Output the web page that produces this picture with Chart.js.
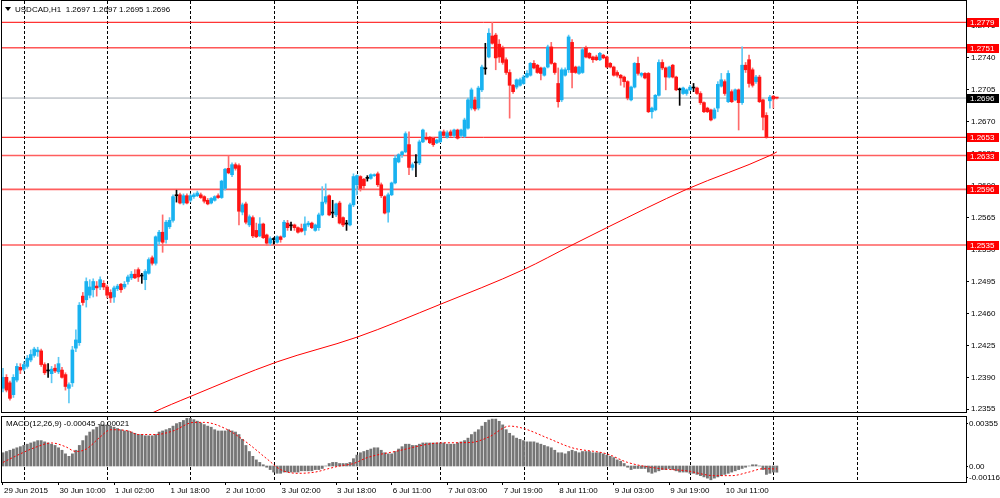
<!DOCTYPE html>
<html>
<head>
<meta charset="utf-8">
<title>USDCAD,H1</title>
<script src="https://cdn.jsdelivr.net/npm/chart.js@4.4.0/dist/chart.umd.min.js"></script>
<style>
  html, body { margin: 0; padding: 0; background: #fff; }
  #wrap { position: relative; width: 1000px; height: 498px; overflow: hidden; }
  canvas { position: absolute; left: 0; }
  #main { top: 0; }
  #macd { top: 414px; }
</style>
</head>
<body>
<div id="wrap">
  <canvas id="main" width="1000" height="414"></canvas>
  <canvas id="macd" width="1000" height="84"></canvas>
</div>
<script>
// H1 candles, bar 0 = first visible bar
const opens = [
  1.2378,1.2390,1.2384,1.2371,1.2387,1.2401,1.2399,1.2402,1.2409,1.2414,
  1.2418,1.2419,1.2404,1.2397,1.2394,1.2400,1.2396,1.2398,1.2393,1.2378,
  1.2384,1.2422,1.2428,1.2479,1.2475,1.2480,1.2486,1.2490,1.2489,1.2493,
  1.2489,1.2483,1.2478,1.2487,1.2492,1.2489,1.2495,1.2499,1.2503,1.2508,
  1.2501,1.2497,1.2504,1.2521,1.2515,1.2539,1.2549,1.2541,1.2555,1.2562,
  1.2589,1.2590,1.2581,1.2589,1.2584,1.2588,1.2589,1.2590,1.2588,1.2584,
  1.2581,1.2584,1.2589,1.2587,1.2597,1.2619,1.2612,1.2623,1.2622,1.2571,
  1.2580,1.2557,1.2565,1.2551,1.2545,1.2558,1.2546,1.2537,1.2541,1.2538,
  1.2544,1.2544,1.2559,1.2556,1.2557,1.2554,1.2553,1.2551,1.2557,1.2559,
  1.2551,1.2554,1.2568,1.2582,1.2589,1.2570,1.2568,1.2581,1.2565,1.2558,
  1.2557,1.2579,1.2601,1.2610,1.2607,1.2608,1.2608,1.2611,1.2613,1.2601,
  1.2588,1.2571,1.2590,1.2603,1.2626,1.2634,1.2637,1.2645,1.2620,1.2625,
  1.2625,1.2648,1.2653,1.2653,1.2652,1.2647,1.2648,1.2659,1.2653,1.2659,
  1.2655,1.2661,1.2655,1.2654,1.2663,1.2685,1.2694,1.2685,1.2705,1.2728,
  1.2741,1.2764,1.2765,1.2755,1.2751,1.2738,1.2724,1.2710,1.2708,1.2710,
  1.2712,1.2719,1.2721,1.2734,1.2732,1.2729,1.2721,1.2730,1.2752,1.2734,
  1.2712,1.2694,1.2721,1.2727,1.2757,1.2730,1.2723,1.2724,1.2751,1.2745,
  1.2741,1.2741,1.2738,1.2743,1.2741,1.2734,1.2730,1.2724,1.2721,1.2719,
  1.2714,1.2694,1.2708,1.2734,1.2721,1.2723,1.2723,1.2681,1.2683,1.2699,
  1.2735,1.2729,1.2719,1.2732,1.2719,1.2705,1.2701,1.2701,1.2705,1.2707,
  1.2707,1.2701,1.2691,1.2685,1.2683,1.2674,1.2685,1.2709,1.2714,1.2692,
  1.2703,1.2694,1.2705,1.2691,1.2732,1.2738,1.2727,1.2714,1.2719,1.2694,
  1.2677,1.2693,1.2698,1.2697
];
const highs = [
  1.2400,1.2393,1.2386,1.2393,1.2405,1.2405,1.2407,1.2414,1.2420,1.2423,
  1.2423,1.2421,1.2406,1.2405,1.2402,1.2404,1.2412,1.2401,1.2395,1.2384,
  1.2424,1.2442,1.2472,1.2483,1.2499,1.2497,1.2498,1.2495,1.2500,1.2496,
  1.2491,1.2486,1.2490,1.2492,1.2493,1.2495,1.2502,1.2506,1.2508,1.2510,
  1.2504,1.2508,1.2521,1.2523,1.2545,1.2551,1.2568,1.2562,1.2565,1.2590,
  1.2595,1.2592,1.2591,1.2591,1.2591,1.2592,1.2594,1.2592,1.2589,1.2586,
  1.2587,1.2589,1.2591,1.2606,1.2619,1.2633,1.2625,1.2625,1.2624,1.2581,
  1.2582,1.2568,1.2567,1.2559,1.2565,1.2559,1.2547,1.2544,1.2543,1.2545,
  1.2545,1.2562,1.2562,1.2560,1.2558,1.2555,1.2558,1.2566,1.2561,1.2560,
  1.2558,1.2570,1.2599,1.2602,1.2590,1.2584,1.2581,1.2583,1.2566,1.2562,
  1.2581,1.2613,1.2612,1.2611,1.2608,1.2611,1.2613,1.2613,1.2615,1.2603,
  1.2589,1.2592,1.2604,1.2633,1.2635,1.2638,1.2659,1.2659,1.2625,1.2634,
  1.2650,1.2662,1.2658,1.2654,1.2653,1.2651,1.2660,1.2661,1.2660,1.2661,
  1.2662,1.2662,1.2662,1.2674,1.2696,1.2707,1.2697,1.2709,1.2732,1.2756,
  1.2772,1.2779,1.2767,1.2760,1.2753,1.2740,1.2727,1.2711,1.2717,1.2718,
  1.2721,1.2726,1.2735,1.2737,1.2733,1.2730,1.2730,1.2754,1.2757,1.2735,
  1.2729,1.2729,1.2729,1.2765,1.2760,1.2731,1.2731,1.2751,1.2753,1.2746,
  1.2742,1.2743,1.2746,1.2744,1.2742,1.2735,1.2731,1.2726,1.2722,1.2720,
  1.2715,1.2709,1.2735,1.2741,1.2724,1.2724,1.2724,1.2686,1.2700,1.2738,
  1.2738,1.2730,1.2731,1.2733,1.2720,1.2707,1.2708,1.2706,1.2710,1.2712,
  1.2708,1.2703,1.2692,1.2686,1.2684,1.2685,1.2714,1.2723,1.2716,1.2726,
  1.2705,1.2706,1.2706,1.2752,1.2735,1.2743,1.2729,1.2721,1.2721,1.2695,
  1.2680,1.2699,1.2699,1.2697
];
const lows = [
  1.2374,1.2374,1.2365,1.2368,1.2385,1.2394,1.2397,1.2400,1.2407,1.2412,
  1.2413,1.2402,1.2393,1.2390,1.2384,1.2395,1.2394,1.2389,1.2376,1.2362,
  1.2380,1.2418,1.2425,1.2469,1.2467,1.2477,1.2478,1.2479,1.2486,1.2486,
  1.2477,1.2472,1.2472,1.2485,1.2483,1.2487,1.2492,1.2497,1.2498,1.2495,
  1.2493,1.2486,1.2503,1.2513,1.2513,1.2535,1.2527,1.2537,1.2553,1.2560,
  1.2582,1.2580,1.2579,1.2580,1.2582,1.2586,1.2588,1.2586,1.2581,1.2579,
  1.2580,1.2583,1.2586,1.2586,1.2595,1.2613,1.2610,1.2617,1.2557,1.2568,
  1.2558,1.2555,1.2543,1.2543,1.2544,1.2542,1.2535,1.2535,1.2536,1.2537,
  1.2538,1.2543,1.2551,1.2551,1.2551,1.2548,1.2549,1.2546,1.2555,1.2553,
  1.2550,1.2551,1.2567,1.2580,1.2567,1.2565,1.2566,1.2558,1.2555,1.2551,
  1.2556,1.2577,1.2590,1.2594,1.2597,1.2605,1.2607,1.2610,1.2599,1.2587,
  1.2569,1.2560,1.2589,1.2602,1.2625,1.2631,1.2636,1.2612,1.2617,1.2610,
  1.2623,1.2647,1.2650,1.2646,1.2643,1.2646,1.2647,1.2654,1.2652,1.2654,
  1.2653,1.2651,1.2653,1.2653,1.2662,1.2683,1.2682,1.2683,1.2703,1.2722,
  1.2740,1.2755,1.2727,1.2735,1.2733,1.2722,1.2674,1.2701,1.2706,1.2709,
  1.2711,1.2718,1.2720,1.2728,1.2723,1.2716,1.2720,1.2729,1.2733,1.2722,
  1.2686,1.2692,1.2720,1.2724,1.2707,1.2723,1.2722,1.2723,1.2740,1.2739,
  1.2735,1.2737,1.2737,1.2739,1.2729,1.2729,1.2720,1.2719,1.2710,1.2708,
  1.2694,1.2693,1.2707,1.2721,1.2719,1.2717,1.2680,1.2674,1.2682,1.2698,
  1.2727,1.2705,1.2718,1.2718,1.2704,1.2688,1.2700,1.2699,1.2704,1.2703,
  1.2700,1.2689,1.2680,1.2680,1.2671,1.2673,1.2681,1.2708,1.2699,1.2691,
  1.2691,1.2693,1.2661,1.2689,1.2724,1.2708,1.2708,1.2712,1.2691,1.2661,
  1.2652,1.2685,1.2685,1.2695
];
const closes = [
  1.2390,1.2376,1.2367,1.2390,1.2402,1.2398,1.2404,1.2411,1.2415,1.2421,
  1.2420,1.2404,1.2395,1.2397,1.2399,1.2397,1.2405,1.2390,1.2380,1.2382,
  1.2420,1.2431,1.2469,1.2472,1.2495,1.2489,1.2495,1.2488,1.2497,1.2489,
  1.2480,1.2477,1.2488,1.2490,1.2486,1.2492,1.2500,1.2503,1.2499,1.2500,
  1.2501,1.2506,1.2519,1.2515,1.2544,1.2549,1.2538,1.2560,1.2562,1.2588,
  1.2589,1.2581,1.2589,1.2581,1.2589,1.2590,1.2592,1.2587,1.2583,1.2580,
  1.2586,1.2588,1.2587,1.2605,1.2618,1.2614,1.2623,1.2619,1.2572,1.2579,
  1.2560,1.2566,1.2545,1.2544,1.2558,1.2543,1.2537,1.2542,1.2541,1.2544,
  1.2541,1.2560,1.2554,1.2556,1.2554,1.2549,1.2550,1.2558,1.2559,1.2554,
  1.2557,1.2568,1.2582,1.2588,1.2568,1.2570,1.2580,1.2559,1.2557,1.2558,
  1.2579,1.2610,1.2611,1.2597,1.2600,1.2608,1.2612,1.2612,1.2601,1.2589,
  1.2570,1.2590,1.2603,1.2630,1.2634,1.2637,1.2657,1.2620,1.2623,1.2625,
  1.2648,1.2661,1.2651,1.2647,1.2645,1.2650,1.2659,1.2655,1.2658,1.2655,
  1.2661,1.2652,1.2661,1.2672,1.2694,1.2705,1.2684,1.2707,1.2730,1.2728,
  1.2767,1.2756,1.2740,1.2741,1.2735,1.2724,1.2710,1.2703,1.2716,1.2716,
  1.2719,1.2723,1.2734,1.2729,1.2724,1.2723,1.2729,1.2752,1.2734,1.2724,
  1.2692,1.2727,1.2727,1.2763,1.2724,1.2724,1.2730,1.2749,1.2741,1.2740,
  1.2738,1.2738,1.2745,1.2740,1.2730,1.2730,1.2721,1.2721,1.2718,1.2714,
  1.2696,1.2708,1.2734,1.2723,1.2723,1.2718,1.2681,1.2685,1.2699,1.2735,
  1.2729,1.2719,1.2730,1.2719,1.2705,1.2705,1.2707,1.2705,1.2708,1.2707,
  1.2701,1.2691,1.2681,1.2681,1.2672,1.2683,1.2711,1.2716,1.2701,1.2723,
  1.2692,1.2705,1.2691,1.2732,1.2727,1.2712,1.2710,1.2719,1.2692,1.2675,
  1.2653,1.2697,1.2695,1.2696
];

// moving average, read at a few bars
const maBars   = [42, 43, 54, 79, 102, 126, 150, 164, 174, 197, 221, 223];
const maValues = [1.2349, 1.2351, 1.2369, 1.2407, 1.2434, 1.2470, 1.2508, 1.2535, 1.2554, 1.2596, 1.2633, 1.2637];

// horizontal levels and current bid
const levels = [1.2779, 1.2751, 1.2653, 1.2633, 1.2596, 1.2535];
const bidPrice = 1.2696;

// MACD(12,26,9) main values per bar
const macdMain = [
  0.00096,0.00105,0.00114,0.00123,0.00132,0.00140,0.00149,0.00158,0.00167,0.00175,
  0.00184,0.00184,0.00175,0.00167,0.00158,0.00149,0.00132,0.00114,0.00088,0.00070,
  0.00088,0.00114,0.00149,0.00184,0.00219,0.00246,0.00263,0.00281,0.00298,0.00298,
  0.00298,0.00289,0.00281,0.00272,0.00263,0.00254,0.00254,0.00246,0.00237,0.00228,
  0.00228,0.00219,0.00219,0.00219,0.00228,0.00246,0.00254,0.00263,0.00272,0.00289,
  0.00307,0.00316,0.00330,0.00345,0.00345,0.00336,0.00325,0.00312,0.00300,0.00289,
  0.00281,0.00263,0.00254,0.00254,0.00254,0.00263,0.00254,0.00246,0.00228,0.00193,
  0.00149,0.00105,0.00070,0.00044,0.00026,0.00009,-0.00009,-0.00026,-0.00044,-0.00053,
  -0.00053,-0.00044,-0.00044,-0.00044,-0.00044,-0.00044,-0.00035,-0.00035,-0.00035,-0.00035,
  -0.00026,-0.00026,-0.00018,0.00000,0.00018,0.00026,0.00026,0.00018,0.00018,0.00018,
  0.00026,0.00053,0.00079,0.00096,0.00105,0.00114,0.00123,0.00132,0.00132,0.00114,
  0.00096,0.00088,0.00088,0.00105,0.00123,0.00140,0.00158,0.00158,0.00149,0.00149,
  0.00158,0.00167,0.00167,0.00167,0.00167,0.00167,0.00167,0.00167,0.00158,0.00158,
  0.00158,0.00167,0.00175,0.00184,0.00202,0.00228,0.00246,0.00263,0.00289,0.00316,
  0.00333,0.00340,0.00340,0.00324,0.00298,0.00263,0.00237,0.00219,0.00202,0.00193,
  0.00184,0.00175,0.00175,0.00175,0.00167,0.00158,0.00149,0.00140,0.00132,0.00114,
  0.00096,0.00096,0.00088,0.00105,0.00114,0.00105,0.00096,0.00105,0.00105,0.00105,
  0.00096,0.00096,0.00096,0.00088,0.00079,0.00070,0.00061,0.00044,0.00035,0.00018,
  -0.00009,-0.00026,-0.00018,-0.00018,-0.00018,-0.00018,-0.00044,-0.00053,-0.00044,-0.00035,
  -0.00026,-0.00026,-0.00018,-0.00026,-0.00035,-0.00044,-0.00044,-0.00044,-0.00053,-0.00053,
  -0.00061,-0.00070,-0.00079,-0.00088,-0.00100,-0.00088,-0.00079,-0.00070,-0.00061,-0.00053,
  -0.00044,-0.00035,-0.00026,-0.00018,-0.00009,0.00000,0.00009,0.00009,0.00000,-0.00026,
  -0.00061,-0.00053,-0.00044,-0.00045
];
// signal line, read at a few bars
const signalBars = [0,5,9,14,18,21,24,28,31,36,39,44,49,55,58,64,70,76,80,85,90,94,97,101,105,113,126,135,140,146,150,157,164,174,180,189,197,205,210,215,219,223];
const signalValues = [0.00026,0.00088,0.00132,0.00167,0.00140,0.00105,0.00123,0.00210,0.00263,0.00254,0.00228,0.00228,0.00254,0.00316,0.00316,0.00272,0.00175,0.00053,-0.00026,-0.00053,-0.00044,-0.00018,0.00000,0.00018,0.00061,0.00105,0.00167,0.00171,0.00210,0.00289,0.00272,0.00202,0.00132,0.00088,0.00026,-0.00018,-0.00035,-0.00070,-0.00070,-0.00044,-0.00020,-0.00021];

// time axis
const timeLabels = ['29 Jun 2015','30 Jun 10:00','1 Jul 02:00','1 Jul 18:00','2 Jul 10:00','3 Jul 02:00','3 Jul 18:00','6 Jul 11:00','7 Jul 03:00','7 Jul 19:00','8 Jul 11:00','9 Jul 03:00','9 Jul 19:00','10 Jul 11:00'];
const labelBars = [0,16,32,48,64,80,96,112,128,144,160,176,192,208];
const gridBars = [6,30,54,78,102,126,150,174,198,222,246];

const priceTicks = [1.2355,1.2390,1.2425,1.2460,1.2495,1.2530,1.2565,1.2600,1.2635,1.2670,1.2705,1.2740,1.2775];
const macdTicks = [0.00355, 0, -0.00116];
const macdTickText = ['0.00355', '0.00', '-0.00116'];

// ---- layout ----
const X_MIN = -0.576, X_MAX = 277.52;
const Y_MIN = 1.235203, Y_MAX = 1.280234;
const FONT = '"Liberation Sans", Arial, sans-serif';

Chart.defaults.font.family = FONT;
Chart.defaults.font.size = 8;
Chart.defaults.color = '#000';
Chart.defaults.animation = false;

const bars = opens.map((_, i) => i);

function candleColor(i, wick) {
  if (closes[i] > opens[i]) return wick ? '#5ec9f4' : '#18b2f0';
  if (closes[i] < opens[i]) return wick ? '#ff6b6b' : '#ff1414';
  return '#000';
}

// dashed vertical grid, drawn under the data
const vGrid = {
  id: 'vGrid',
  beforeDatasetsDraw(chart) {
    const { ctx, chartArea: ca, scales: { x } } = chart;
    ctx.save();
    ctx.strokeStyle = '#000';
    ctx.lineWidth = 1;
    ctx.setLineDash([3, 2]);
    gridBars.forEach(b => {
      const px = Math.round(x.getPixelForValue(b)) + 0.5;
      ctx.beginPath();
      ctx.moveTo(px, ca.top);
      ctx.lineTo(px, ca.bottom);
      ctx.stroke();
    });
    ctx.restore();
  }
};

// panel frame
const frame = {
  id: 'frame',
  afterDraw(chart) {
    const { ctx, chartArea: ca } = chart;
    ctx.save();
    ctx.strokeStyle = '#000';
    ctx.lineWidth = 1;
    ctx.strokeRect(ca.left + 0.5, ca.top - 0.5, ca.right - ca.left, ca.bottom - ca.top + 1);
    ctx.restore();
  }
};

// price boxes on the right axis + window title
const priceBoxes = {
  id: 'priceBoxes',
  afterDraw(chart) {
    const { ctx, chartArea: ca, scales: { y } } = chart;
    ctx.save();
    ctx.font = '8px ' + FONT;
    ctx.textBaseline = 'middle';
    const boxes = levels.map(v => ({ v, bg: '#ff0000' }));
    boxes.push({ v: bidPrice, bg: '#000' });
    boxes.forEach(b => {
      const py = Math.round(y.getPixelForValue(b.v));
      ctx.fillStyle = b.bg;
      ctx.fillRect(ca.right + 1, py - 4, 32, 9);
      ctx.fillStyle = '#fff';
      ctx.fillText(b.v.toFixed(4), ca.right + 4, py + 0.5);
    });
    // title
    ctx.fillStyle = '#000';
    ctx.beginPath();
    ctx.moveTo(5, 7); ctx.lineTo(11, 7); ctx.lineTo(8, 11); ctx.closePath();
    ctx.fill();
    ctx.fillText('USDCAD,H1  ' + [opens[223], highs[223], lows[223], closes[223]].map(v => v.toFixed(4)).join(' '), 15, 9.5);
    ctx.restore();
  }
};

new Chart(document.getElementById('main'), {
  type: 'bar',
  data: {
    datasets: [
      ...levels.map((lv, k) => ({
        type: 'line',
        data: [{ x: X_MIN, y: lv }, { x: X_MAX, y: lv }],
        borderColor: k < 3 ? '#ff0000' : 'rgba(255,40,40,0.75)',
        borderWidth: k < 3 ? 1 : 1.6,
        pointRadius: 0,
        order: 10
      })),
      {
        type: 'line',
        data: [{ x: X_MIN, y: bidPrice }, { x: X_MAX, y: bidPrice }],
        borderColor: '#a0a8b0',
        borderWidth: 1,
        pointRadius: 0,
        order: 10
      },
      {
        type: 'line',
        data: maBars.map((b, k) => ({ x: b, y: maValues[k] })),
        borderColor: '#ff0000',
        borderWidth: 1,
        pointRadius: 0,
        cubicInterpolationMode: 'monotone',
        order: 1
      },
      {
        data: bars.map(i => ({ x: i, y: [lows[i], highs[i]] })),
        backgroundColor: bars.map(i => candleColor(i, true)),
        barThickness: 1,
        grouped: false,
        order: 3
      },
      {
        data: bars.map(i => ({ x: i, y: [opens[i], closes[i]] })),
        backgroundColor: bars.map(i => candleColor(i, false)),
        barThickness: 3,
        minBarLength: 1,
        grouped: false,
        order: 2
      }
    ]
  },
  options: {
    responsive: false,
    devicePixelRatio: 1,
    events: [],
    layout: { padding: { left: 1, top: 1, right: 0, bottom: 2 } },
    plugins: { legend: { display: false }, tooltip: { enabled: false } },
    scales: {
      x: { type: 'linear', display: false, min: X_MIN, max: X_MAX, offset: false },
      y: {
        type: 'linear',
        position: 'right',
        min: Y_MIN,
        max: Y_MAX,
        beginAtZero: false,
        afterFit: s => { s.width = 34; s.paddingTop = 0; s.paddingBottom = 0; },
        afterBuildTicks: s => { s.ticks = priceTicks.map(v => ({ value: v })); },
        ticks: { callback: v => v.toFixed(4), padding: 2, autoSkip: false, font: { size: 8 } },
        grid: { drawOnChartArea: false, drawTicks: true, tickLength: 3, color: '#000' },
        border: { display: false }
      }
    }
  },
  plugins: [vGrid, frame, priceBoxes]
});

// MACD axis labels and title
const macdText = {
  id: 'macdText',
  afterDraw(chart) {
    const { ctx, chartArea: ca, scales: { y } } = chart;
    ctx.save();
    ctx.font = '8px ' + FONT;
    ctx.textBaseline = 'middle';
    ctx.fillStyle = '#000';
    ctx.strokeStyle = '#000';
    macdTicks.forEach((v, k) => {
      let py = y.getPixelForValue(v);
      py = Math.round(Math.min(Math.max(py, ca.top + 6), ca.bottom - 5));
      ctx.beginPath();
      ctx.moveTo(ca.right, py + 0.5);
      ctx.lineTo(ca.right + 2, py + 0.5);
      ctx.stroke();
      ctx.fillText(macdTickText[k], ca.right + 3, py + 0.5, 31);
    });
    ctx.fillText('MACD(12,26,9) ' + macdMain[223].toFixed(5) + ' ' + signalValues[signalValues.length - 1].toFixed(5), 6, ca.top + 7);
    ctx.restore();
  }
};

new Chart(document.getElementById('macd'), {
  type: 'bar',
  data: {
    datasets: [
      {
        type: 'line',
        data: signalBars.map((b, k) => ({ x: b, y: signalValues[k] })),
        borderColor: '#ff0000',
        borderWidth: 1,
        borderDash: [2, 2],
        pointRadius: 0,
        cubicInterpolationMode: 'monotone',
        order: 1
      },
      {
        data: bars.map(i => ({ x: i, y: macdMain[i] })),
        backgroundColor: '#767676',
        barThickness: 2.2,
        grouped: false,
        order: 2
      }
    ]
  },
  options: {
    responsive: false,
    devicePixelRatio: 1,
    events: [],
    layout: { padding: { left: 1, top: 3, right: 34, bottom: 0 } },
    plugins: { legend: { display: false }, tooltip: { enabled: false } },
    scales: {
      x: {
        type: 'linear',
        position: 'bottom',
        min: X_MIN,
        max: X_MAX,
        offset: false,
        afterFit: s => { s.height = 16; },
        afterBuildTicks: s => { s.ticks = labelBars.map(v => ({ value: v })); },
        ticks: {
          callback: (v, idx) => timeLabels[idx],
          align: 'start',
          labelOffset: 1,
          maxRotation: 0,
          minRotation: 0,
          autoSkip: false,
          padding: 1,
          font: { size: 8 }
        },
        grid: { drawOnChartArea: false, drawTicks: true, tickLength: 3, color: '#000', offset: false },
        border: { display: false }
      },
      y: { type: 'linear', display: false, min: -0.00116, max: 0.00355, beginAtZero: false }
    }
  },
  plugins: [vGrid, frame, macdText]
});
</script>
</body>
</html>
